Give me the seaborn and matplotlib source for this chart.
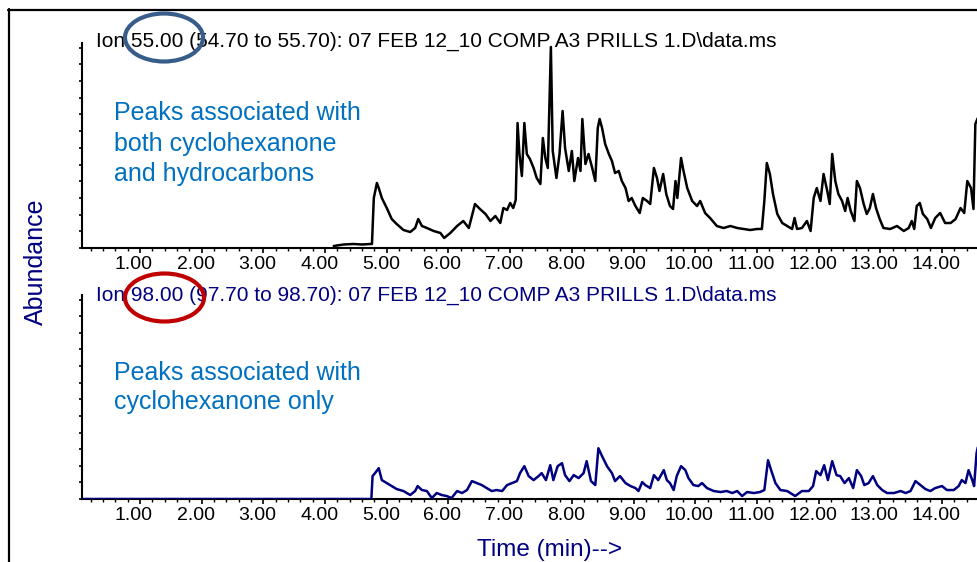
import matplotlib
matplotlib.use("Agg")
import matplotlib.pyplot as plt
import matplotlib.transforms as mtransforms
from matplotlib.lines import Line2D
from matplotlib.patches import Ellipse
from matplotlib.ticker import MultipleLocator, FixedLocator, FixedFormatter
import pandas as pd
import seaborn as sns

# ---- extracted ion chromatograms (time in min, abundance in arbitrary units) ----
ion55_time = [4.14, 4.30, 4.46, 4.60, 4.73, 4.76, 4.79, 4.84, 4.87, 4.92, 5.00, 5.08,
              5.16, 5.27, 5.38, 5.46, 5.51, 5.57, 5.65, 5.76, 5.87, 5.93, 6.03, 6.14,
              6.24, 6.33, 6.43, 6.51, 6.60, 6.68, 6.76, 6.84, 6.89, 6.95, 7.00, 7.05,
              7.09, 7.12, 7.15, 7.19, 7.23, 7.27, 7.32, 7.38, 7.43, 7.49, 7.53, 7.57,
              7.61, 7.66, 7.69, 7.75, 7.80, 7.85, 7.89, 7.95, 8.00, 8.04, 8.10, 8.14,
              8.17, 8.22, 8.27, 8.33, 8.38, 8.42, 8.45, 8.49, 8.54, 8.60, 8.65, 8.70,
              8.76, 8.81, 8.87, 8.92, 8.97, 9.03, 9.10, 9.15, 9.22, 9.27, 9.33, 9.38,
              9.42, 9.48, 9.53, 9.59, 9.64, 9.68, 9.71, 9.77, 9.81, 9.87, 9.95, 10.03,
              10.08, 10.16, 10.24, 10.35, 10.46, 10.57, 10.68, 10.78, 10.89, 11.00, 11.08,
              11.12, 11.16, 11.21, 11.26, 11.33, 11.41, 11.49, 11.57, 11.61, 11.65, 11.73,
              11.81, 11.87, 11.92, 11.97, 12.03, 12.08, 12.14, 12.18, 12.22, 12.27, 12.32,
              12.38, 12.43, 12.47, 12.52, 12.58, 12.62, 12.67, 12.73, 12.78, 12.83, 12.88,
              12.93, 12.99, 13.05, 13.16, 13.27, 13.38, 13.46, 13.51, 13.55, 13.59, 13.64,
              13.69, 13.76, 13.82, 13.89, 13.97, 14.05, 14.14, 14.22, 14.30, 14.36, 14.41,
              14.47, 14.51, 14.54, 14.58]
ion55_abund = [2, 3.5, 4, 3.5, 4, 4, 50, 65, 60, 50, 40, 29,
               24, 18, 16, 20, 29, 22, 20, 17, 15, 10, 15, 22,
               27, 20, 44, 39, 34, 27, 32, 25, 40, 38, 45, 40,
               48, 125, 94, 72, 125, 94, 89, 80, 70, 64, 110, 90,
               80, 201, 97, 70, 94, 137, 100, 77, 97, 67, 90, 77,
               129, 84, 94, 80, 67, 120, 129, 120, 104, 94, 87, 75,
               77, 67, 60, 47, 50, 42, 35, 50, 47, 44, 80, 70,
               57, 74, 54, 42, 39, 67, 50, 90, 77, 60, 47, 42,
               47, 35, 30, 22, 20, 22, 20, 19, 18, 19, 19,
               47, 85, 74, 54, 34, 25, 22, 19, 30, 19, 20,
               27, 17, 50, 60, 47, 74, 57, 44, 94, 67, 54,
               47, 37, 50, 37, 27, 67, 60, 44, 34, 40, 54,
               40, 29, 20, 19, 22, 17, 20, 27, 19, 42, 45,
               34, 29, 20, 30, 35, 25, 25, 29, 40, 35, 67,
               60, 39, 124, 130]

ion98_time = [0.06, 4.75, 4.77, 4.81, 4.87, 4.92, 5.00, 5.08, 5.16, 5.27, 5.38, 5.46,
              5.50, 5.57, 5.65, 5.73, 5.81, 5.89, 5.97, 6.05, 6.14, 6.22, 6.30, 6.38,
              6.46, 6.54, 6.62, 6.70, 6.78, 6.87, 6.95, 7.03, 7.11, 7.16, 7.23, 7.30,
              7.38, 7.46, 7.51, 7.58, 7.65, 7.70, 7.77, 7.84, 7.89, 7.96, 8.03, 8.11,
              8.19, 8.24, 8.31, 8.38, 8.43, 8.49, 8.57, 8.65, 8.70, 8.78, 8.87, 8.95,
              9.03, 9.08, 9.14, 9.19, 9.27, 9.33, 9.40, 9.49, 9.54, 9.59, 9.65, 9.70,
              9.77, 9.84, 9.89, 9.97, 10.05, 10.11, 10.19, 10.30, 10.41, 10.51, 10.60,
              10.68, 10.76, 10.84, 10.95, 11.05, 11.12, 11.18, 11.23, 11.30, 11.38, 11.49,
              11.62, 11.73, 11.84, 11.91, 11.96, 12.03, 12.09, 12.15, 12.22, 12.29, 12.35,
              12.42, 12.49, 12.56, 12.62, 12.69, 12.74, 12.81, 12.88, 12.95, 13.03, 13.11,
              13.22, 13.33, 13.41, 13.49, 13.57, 13.65, 13.73, 13.81, 13.89, 14.00, 14.08,
              14.19, 14.27, 14.32, 14.38, 14.43, 14.49, 14.52, 14.56, 14.58]
ion98_abund = [0, 0, 23, 26, 31, 19, 16, 13, 10, 8, 4, 8,
               13, 9, 8, 1, 6, 4, 3, 1, 8, 6, 9, 18,
               16, 14, 11, 8, 9, 8, 14, 16, 18, 26, 33, 23,
               19, 23, 26, 19, 34, 19, 33, 36, 24, 18, 24, 21,
               26, 38, 18, 14, 51, 43, 33, 26, 18, 23, 16, 13,
               11, 8, 17, 14, 11, 24, 19, 29, 19, 16, 9, 23,
               33, 29, 21, 14, 13, 16, 11, 8, 7, 8, 6,
               8, 3, 7, 6, 7, 9, 39, 29, 16, 9, 8,
               3, 8, 8, 13, 28, 24, 34, 19, 38, 24, 23,
               16, 21, 11, 29, 23, 14, 16, 23, 14, 9, 6,
               6, 8, 6, 8, 18, 14, 10, 8, 11, 13, 9,
               9, 13, 19, 16, 29, 19, 13, 46, 52]

major_ticks = [1, 2, 3, 4, 5, 6, 7, 8, 9, 10, 11, 12, 13, 14]
tick_labels = [f"{t:.2f}" for t in major_ticks]

title55 = "Ion 55.00 (54.70 to 55.70): 07 FEB 12_10 COMP A3 PRILLS 1.D\\data.ms"
title98 = "Ion 98.00 (97.70 to 98.70): 07 FEB 12_10 COMP A3 PRILLS 1.D\\data.ms"
note55 = ["Peaks associated with", "both cyclohexanone", "and hydrocarbons"]
note98 = ["Peaks associated with", "cyclohexanone only"]

NAVY = "#000080"
NOTE_BLUE = "#0070C0"

W, H = 977, 562
sns.set_theme(style="white")
plt.rcParams["font.family"] = ["Liberation Sans", "DejaVu Sans"]

fig = plt.figure(figsize=(W / 100, H / 100), dpi=100)
fig.patch.set_facecolor("white")


def fx(px):
    return px / W


def fy(py):
    return 1 - py / H


def axes_px(left, top, right, bottom):
    return fig.add_axes([fx(left), fy(bottom), (right - left) / W, (bottom - top) / H])


ax1 = axes_px(82, 43, 977, 248)
ax2 = axes_px(82, 295, 977, 499)

df55 = pd.DataFrame({"time": ion55_time, "abundance": ion55_abund})
df98 = pd.DataFrame({"time": ion98_time, "abundance": ion98_abund})

sns.lineplot(data=df55, x="time", y="abundance", ax=ax1, color="black",
             linewidth=1.8, sort=False, estimator=None, zorder=5)
sns.lineplot(data=df98, x="time", y="abundance", ax=ax2, color=NAVY,
             linewidth=1.8, sort=False, estimator=None, zorder=5)

label_shift = mtransforms.ScaledTranslation(-6 / 100, 0, fig.dpi_scale_trans)
for ax in (ax1, ax2):
    ax.set_xlim(0.06, 14.567)
    ax.set_ylim(0, 205)
    ax.set_facecolor("white")
    for side in ("top", "right"):
        ax.spines[side].set_visible(False)
    for side in ("left", "bottom"):
        ax.spines[side].set_color("black")
        ax.spines[side].set_linewidth(1.5)
    ax.xaxis.set_major_locator(FixedLocator(major_ticks))
    ax.xaxis.set_major_formatter(FixedFormatter(tick_labels))
    ax.xaxis.set_minor_locator(MultipleLocator(0.2))
    ax.yaxis.set_major_locator(MultipleLocator(16.7))
    ax.set_yticklabels([])
    ax.tick_params(axis="x", which="major", direction="out", length=3.5, width=1.2,
                   color="black", labelsize=14, labelcolor="black", pad=2,
                   bottom=True)
    ax.tick_params(axis="x", which="minor", direction="out", length=2, width=1.0,
                   color="black", bottom=True)
    ax.tick_params(axis="y", which="major", direction="out", length=2, width=1.2,
                   color="black", left=True, labelleft=False)
    ax.set_xlabel("")
    ax.set_ylabel("")
    ax.grid(False)
    for lbl in ax.get_xticklabels():
        lbl.set_transform(lbl.get_transform() + label_shift)

# outer frame of the slide panel
fig.add_artist(Line2D([fx(8), fx(977)], [fy(10), fy(10)], color="black", linewidth=1.6))
fig.add_artist(Line2D([fx(9), fx(9)], [fy(9), fy(562)], color="black", linewidth=1.6))

# panel titles
fig.text(fx(96), fy(41.5), title55, fontsize=15, color="black", ha="left", va="center")
fig.text(fx(96), fy(295), title98, fontsize=15, color=NAVY, ha="left", va="center")

# notes
for text, base in zip(note55, [120, 151, 181]):
    fig.text(fx(114), fy(base), text, fontsize=18, color=NOTE_BLUE, ha="left",
             va="baseline")
for text, base in zip(note98, [380, 409]):
    fig.text(fx(114), fy(base), text, fontsize=18, color=NOTE_BLUE, ha="left",
             va="baseline")

# axis captions
fig.text(fx(36), fy(262), "Abundance", rotation=90, fontsize=18, color=NAVY,
         ha="center", va="center")
fig.text(fx(550), fy(550), "Time (min)-->", fontsize=17.5, color=NAVY,
         ha="center", va="center")

# highlight rings around the ion masses
fig.add_artist(Ellipse((fx(164), fy(37.5)), 78 / W, 48 / H, fill=False,
                       edgecolor="#385D8A", linewidth=3, transform=fig.transFigure,
                       zorder=10))
fig.add_artist(Ellipse((fx(164.5), fy(297.5)), 79 / W, 48 / H, fill=False,
                       edgecolor="#C00000", linewidth=3, transform=fig.transFigure,
                       zorder=10))

fig.savefig("out.png", dpi=100, facecolor="white")
